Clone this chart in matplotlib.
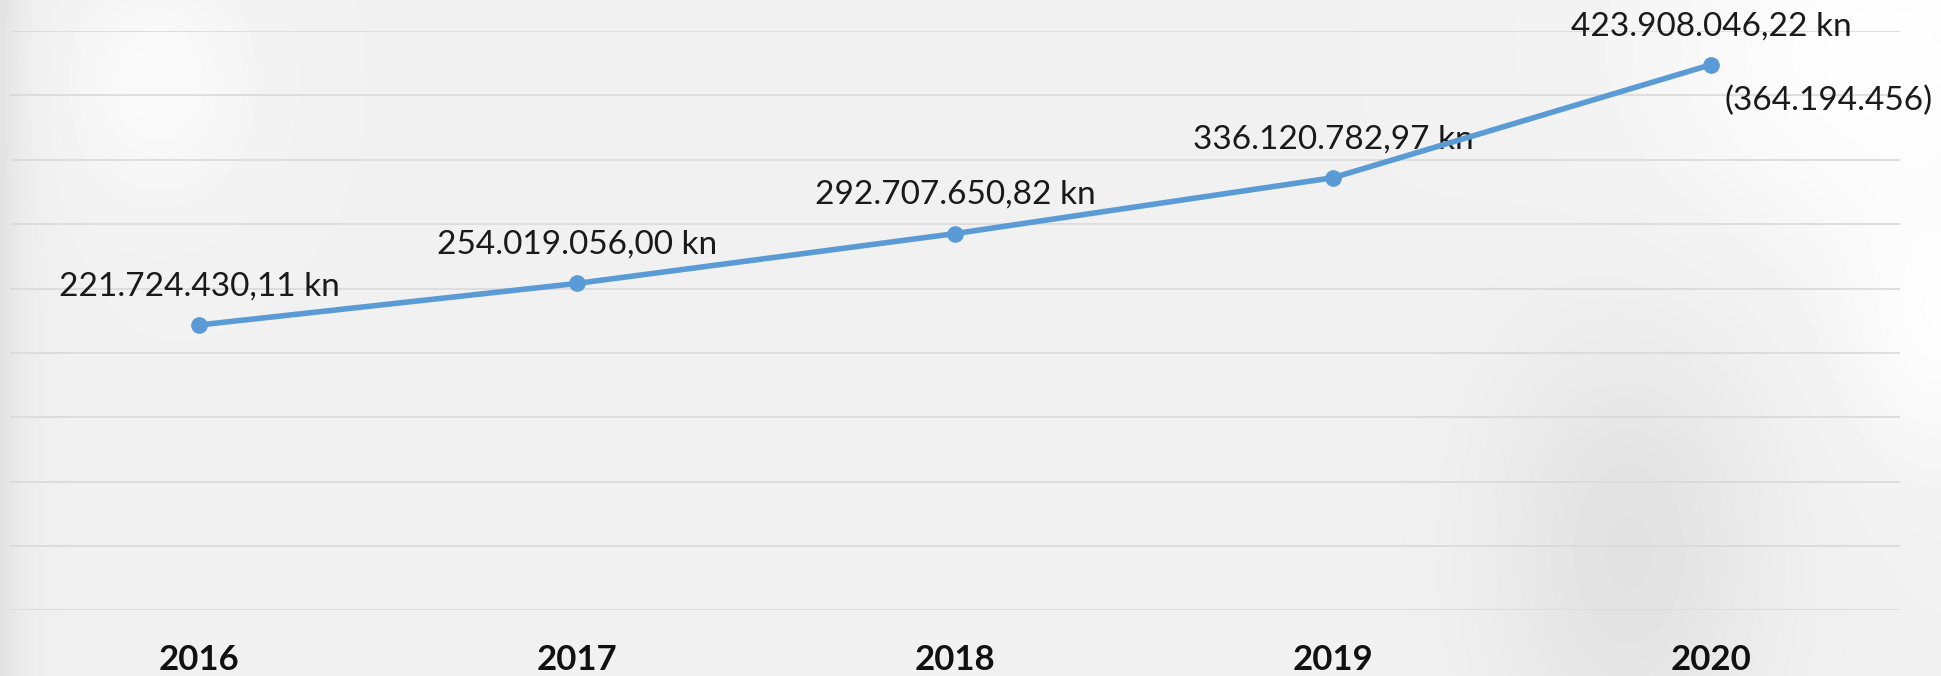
import matplotlib
matplotlib.use("Agg")
import matplotlib.pyplot as plt
import numpy as np

plt.rcParams["font.family"] = ["Lato", "DejaVu Sans"]

# data
YEARS = ["2016", "2017", "2018", "2019", "2020"]
VALUES = [221724430.11, 254019056.00, 292707650.82, 336120782.97, 423908046.22]
NOTE_2020 = "(364.194.456)"

LINE_COLOR = "#5B9BD5"
GRID_COLOR = "#d9d9d9"


def fmt_kn(v):
    s = f"{v:,.2f}"                       # 221,724,430.11
    s = s.replace(",", "X").replace(".", ",").replace("X", ".")
    return s + " kn"


def background(w, h):
    # soft grey "photo" backdrop
    x = np.linspace(0, 1, w)[None, :]
    y = np.linspace(0, 1, h)[:, None]
    img = np.full((h, w), 0.945)

    def blob(cx, cy, sx, sy, amp):
        return amp * np.exp(-(((x - cx) / sx) ** 2 + ((y - cy) / sy) ** 2))

    img = img + blob(0.97, 0.08, 0.12, 0.30, 0.05)
    img = img + blob(1.00, 0.50, 0.05, 0.20, 0.04)
    img = img + blob(0.08, 0.12, 0.05, 0.18, 0.035)
    img = img + blob(0.84, 0.82, 0.07, 0.32, -0.06)
    img = img - 0.06 * np.exp(-x / 0.012)
    return np.clip(img, 0, 1)


fig = plt.figure(figsize=(19.41, 6.76), dpi=100)
bg = fig.add_axes([0, 0, 1, 1], zorder=-1)
bg.imshow(background(400, 140), cmap="gray", vmin=0, vmax=1,
          aspect="auto", interpolation="bilinear")
bg.axis("off")

ax = fig.add_axes([0.0052, 0.097, 0.9737, 0.857])
ax.patch.set_alpha(0)

xs = np.arange(len(YEARS))
ax.plot(xs, VALUES, color=LINE_COLOR, lw=4, marker="o", ms=11,
        solid_capstyle="round", zorder=3)

for x, v in zip(xs, VALUES):
    ax.annotate(fmt_kn(v), (x, v), xytext=(0, 17), textcoords="offset points",
                ha="center", va="bottom", fontsize=24, color="#1a1a1a",
                zorder=2, annotation_clip=False)

ax.annotate(NOTE_2020, (xs[-1], VALUES[-1]), xytext=(10, -26),
            textcoords="offset points", ha="left", va="center",
            fontsize=24, color="#1a1a1a", annotation_clip=False)

ax.set_xlim(-0.5, len(YEARS) - 0.5)
ax.set_ylim(0, 450e6)
ax.set_yticks(np.arange(0, 450e6 + 1, 50e6))
ax.yaxis.grid(True, color=GRID_COLOR, lw=1.2)
ax.set_axisbelow(True)
ax.set_yticklabels([])
ax.tick_params(axis="y", length=0)

ax.set_xticks(xs)
ax.set_xticklabels(YEARS, fontsize=25, fontweight="bold", color="#111111")
ax.tick_params(axis="x", length=0, pad=24)

for s in ax.spines.values():
    s.set_visible(False)

fig.savefig("out.png", dpi=100)
